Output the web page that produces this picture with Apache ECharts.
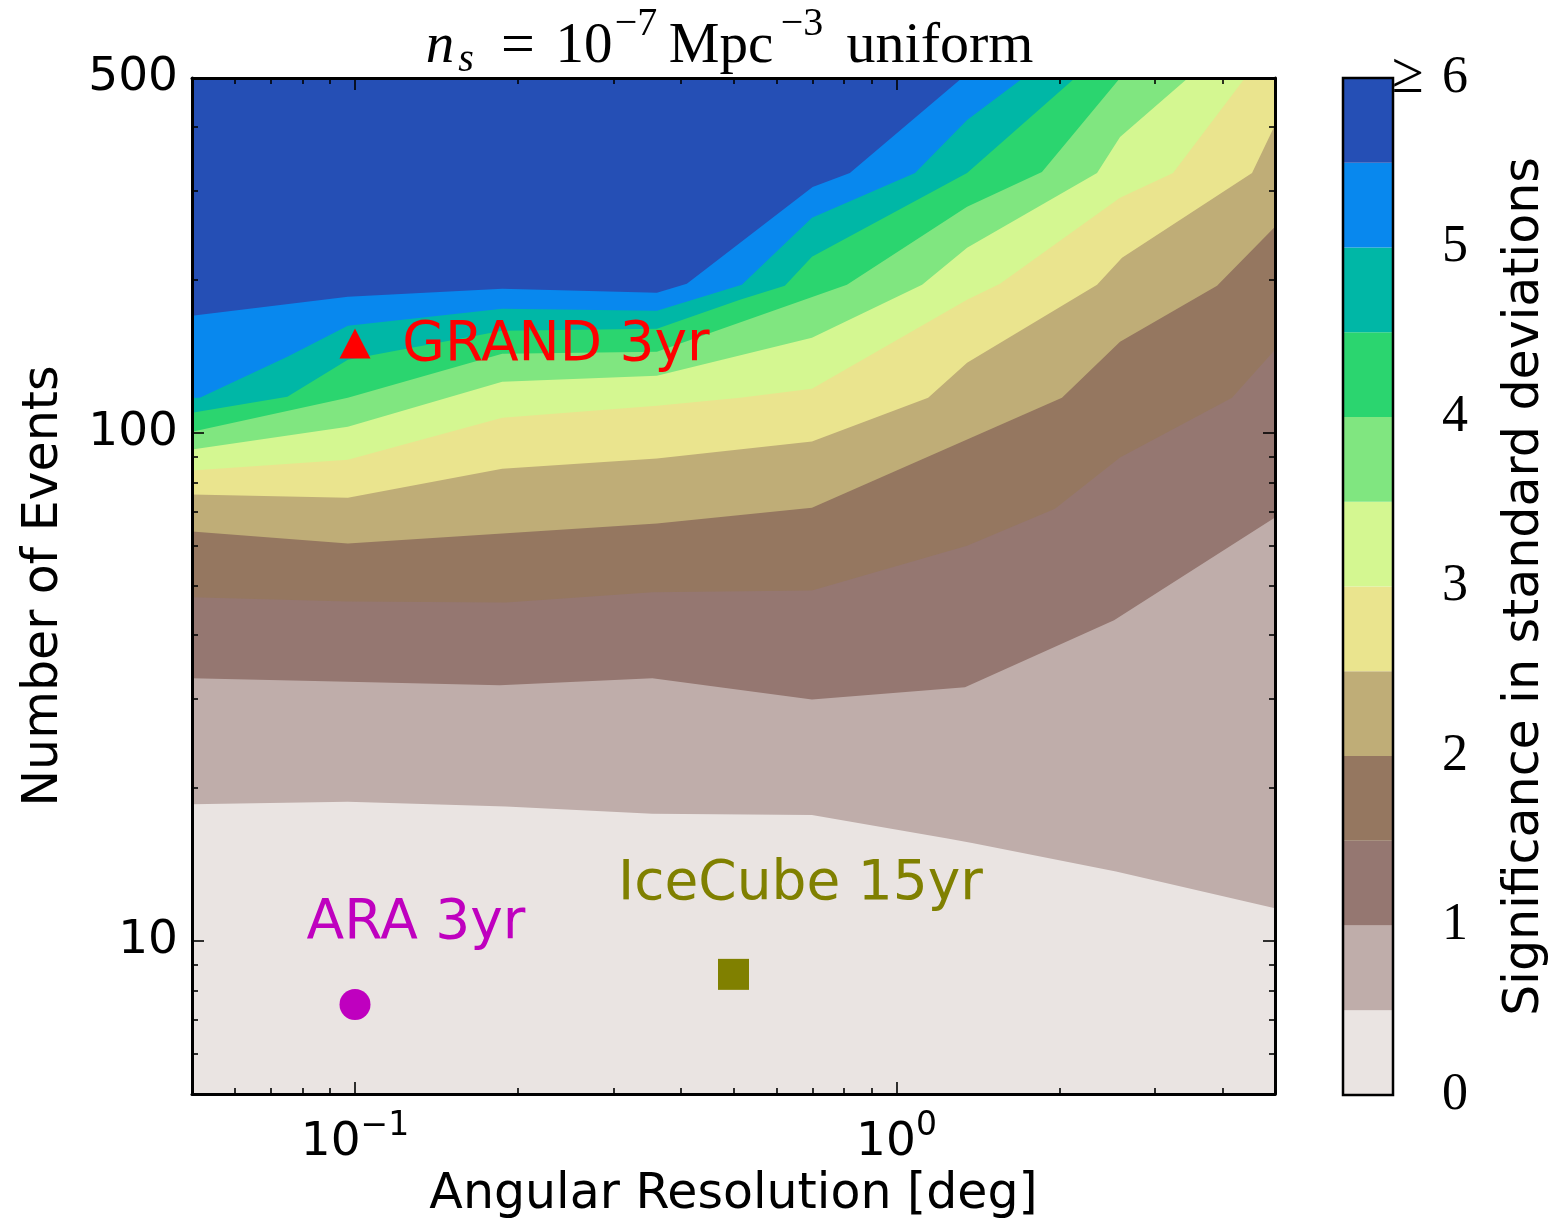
<!DOCTYPE html>
<html>
<head>
<meta charset="utf-8">
<script src="https://cdn.jsdelivr.net/npm/echarts/dist/echarts.min.js"></script>
<style>
html,body{margin:0;padding:0;background:#fff;}
#chart{width:1555px;height:1225px;}
</style>
</head>
<body>
<div id="chart"></div>
<script>
// ---- data: contour boundaries [angular resolution (deg), number of events] ----
const sig05 = [[0.05,18.6],[0.097,18.8],[0.19,18.4],[0.354,17.8],[0.698,17.7],[1.25,15.9],[1.379,15.6],[2.543,13.7],[5,11.6]];
const sig10 = [[0.05,32.9],[0.097,32.4],[0.185,31.9],[0.354,32.9],[0.698,29.9],[1.338,31.6],[2.522,42.8],[5,68.2]];
const sig15 = [[0.05,47.5],[0.097,46.6],[0.19,46.4],[0.354,48.6],[0.698,49.0],[1.35,60.0],[1.962,71.0],[2.587,89.5],[4.165,117.4],[5,145.9]];
const sig20 = [[0.05,64.0],[0.097,60.6],[0.361,66.4],[0.698,71.3],[1.35,97.1],[2.021,117.4],[2.587,151.3],[3.908,195.0],[5,254.7]];
const sig25 = [[0.05,75.7],[0.097,74.6],[0.187,85.1],[0.361,89.1],[0.698,96.2],[1.144,117.4],[1.35,137.5],[2.346,195.8],[2.609,221.3],[4.535,325.2],[5,404.2]];
const sig30 = [[0.05,84.4],[0.097,88.6],[0.187,107.2],[0.361,113.2],[0.514,117.4],[0.698,122.3],[1.35,183.0],[1.553,196.7],[2.587,290.4],[3.241,325.2],[4.401,500]];
const sig35 = [[0.05,92.8],[0.097,102.9],[0.187,126.2],[0.361,129.7],[0.698,154.0],[1.115,195.8],[1.35,231.6],[2.346,325.2],[2.587,382.8],[3.454,500]];
const sig40 = [[0.05,100.6],[0.097,117.4],[0.187,143.3],[0.361,144.6],[0.81,195.8],[1.35,278.8],[1.856,326.7],[2.587,500]];
const sig45 = [[0.05,109.7],[0.075,117.9],[0.097,139.4],[0.187,159.0],[0.361,160.5],[0.514,183.0],[0.622,195.0],[0.698,222.3],[1.35,325.2],[2.136,500]];
const sig50 = [[0.05,117.4],[0.0517,117.4],[0.075,141.3],[0.097,162.7],[0.187,175.6],[0.361,174.1],[0.518,195.8],[0.698,265.3],[1.082,325.2],[1.35,413.4],[1.713,500]];
const sig55 = [[0.05,170.2],[0.097,185.5],[0.187,192.3],[0.361,188.9],[0.41,196.7],[0.7,305.2],[0.82,325.2],[1.321,500]];

const levels = [0,0.5,1,1.5,2,2.5,3,3.5,4,4.5,5,5.5,6];

// detector markers [angular resolution, events]
const grand = [0.1, 150];
const ara = [0.1, 7.5];
const icecube = [0.5, 8.6];

// ticks
const xMajor = [0.1, 1];
const xMinor = [0.06,0.07,0.08,0.09,0.2,0.3,0.4,0.5,0.6,0.7,0.8,0.9,2,3,4];
const yMajor = [10, 100];
const yMinor = [6,7,8,9,20,30,40,50,60,70,80,90,200,300,400];
const yLabels = [10, 100, 500];
const cbTicks = [0,1,2,3,4,5,6];

// ---- styles ----
const bandColors = ['#eae4e2','#bfadaa','#957771','#957760','#bfad77','#eae48e',
                    '#d4f791','#80e680','#2bd56f','#00b7a6','#0888ee','#254fb5'];
const boundaries = [sig05,sig10,sig15,sig20,sig25,sig30,sig35,sig40,sig45,sig50,sig55];
const SANS = 'DejaVu Sans';
const SERIF = 'Liberation Serif';

function logAxis(kind, pos, tickVals, tickLen, withLine, labelCfg) {
  const range = kind === 'x' ? {min:0.05, max:5} : {min:5, max:500};
  return Object.assign({
    type:'log', logBase:10, gridIndex:0, position:pos, z:10,
    axisLine:{show:withLine, onZero:false, lineStyle:{color:'#000', width:3}},
    axisTick:{show:true, inside:true, length:tickLen, customValues:tickVals,
              lineStyle:{color:'#000', width:1.6}},
    axisLabel: labelCfg || {show:false},
    splitLine:{show:false}, minorTick:{show:false}, minorSplitLine:{show:false}
  }, range);
}

const xLabelCfg = {
  show:true, customValues:xMajor, margin:16,
  formatter: v => {
    const e = Math.round(Math.log10(v));
    return '{b|10}{s|' + (e < 0 ? '\u2212' + (-e) : e) + '}';
  },
  rich:{
    b:{fontSize:47, fontFamily:SANS, color:'#000', lineHeight:56, verticalAlign:'bottom'},
    s:{fontSize:33, fontFamily:SANS, color:'#000', lineHeight:28, verticalAlign:'top'}
  }
};
const yLabelCfg = {
  show:true, customValues:yLabels, margin:14, fontSize:47, fontFamily:SANS, color:'#000',
  formatter: v => String(Math.round(v))
};

const xAxes = [
  Object.assign(logAxis('x','bottom',xMajor,12,true,xLabelCfg), {
    name:'Angular Resolution [deg]', nameLocation:'middle', nameGap:77,
    nameTextStyle:{fontSize:49, fontFamily:SANS, color:'#000'}
  }),
  logAxis('x','bottom',xMinor,6,false),
  logAxis('x','top',xMajor,12,true),
  logAxis('x','top',xMinor,6,false),
  {type:'category', gridIndex:1, data:['cb'], show:false}
];
const yAxes = [
  Object.assign(logAxis('y','left',yMajor,12,true,yLabelCfg), {
    name:'Number of Events', nameLocation:'middle', nameGap:123,
    nameTextStyle:{fontSize:49, fontFamily:SANS, color:'#000'}
  }),
  logAxis('y','left',yMinor,6,false),
  logAxis('y','right',yMajor,12,true),
  logAxis('y','right',yMinor,6,false),
  {type:'value', gridIndex:1, min:0, max:6, interval:1, position:'right',
   axisLine:{show:false}, axisTick:{show:false}, splitLine:{show:false},
   axisLabel:{show:true, customValues:cbTicks, margin:49, fontSize:52, fontFamily:SERIF, color:'#000',
              formatter: v => String(v)},
   name:'Significance in standard deviations', nameLocation:'middle', nameGap:108,
   nameTextStyle:{fontSize:49, fontFamily:SANS, color:'#000'}}
];

const series = [];
boundaries.forEach((pts, i) => {
  series.push({
    type:'line', xAxisIndex:0, yAxisIndex:0, data:pts, symbol:'none', silent:true,
    clip:true, z:3, lineStyle:{opacity:0, width:0},
    areaStyle:{color:bandColors[i+1], opacity:1, origin:'end'}
  });
});
// colorbar
for (let i = 0; i < levels.length - 1; i++) {
  series.push({
    type:'bar', xAxisIndex:4, yAxisIndex:4, stack:'cb', barWidth:'100%', silent:true,
    data:[levels[i+1]-levels[i]], itemStyle:{color:bandColors[i]}, z:3
  });
}
function marker(pt, symbol, size, color, text, offset) {
  return {
    type:'scatter', xAxisIndex:0, yAxisIndex:0, data:[pt], symbol:symbol, symbolSize:size,
    itemStyle:{color:color, opacity:1}, z:6, silent:true,
    label:{show:true, position:'inside', offset:offset, formatter:text, color:color, opacity:1,
           fontSize:55, fontFamily:SANS, align:'center', verticalAlign:'middle'}
  };
}
series.push(marker(grand,'triangle',[31,30],'#ff0000','GRAND 3yr',[201,2]));
series.push(marker(ara,'circle',31,'#bf00bf','ARA 3yr',[61,-81]));
series.push(marker(icecube,'rect',31,'#808000','IceCube 15yr',[67,-90]));

function ttext(t, x, y, size, italic) {
  return {type:'text', x:x, y:y, z:100,
    style:{text:t, font:(italic ? 'italic ' : '') + size + 'px "' + SERIF + '"', fill:'#000',
           align:'center', verticalAlign:'middle'}};
}
const graphics = [
  ttext('n', 440, 47, 57, true),
  ttext('s', 466, 60, 40, true),
  ttext('=', 518, 47, 60, false),
  ttext('10', 584, 47, 57, false),
  ttext('\u22127', 636, 24, 40, false),
  ttext('Mpc', 721, 47, 57, false),
  ttext('\u22123', 802, 24, 40, false),
  ttext('uniform', 940, 47, 58, false),
  {type:'text', x:1392, y:77, z:100,
   style:{text:'\u2265', font:'58px "' + SERIF + '"', fill:'#000', align:'left', verticalAlign:'middle'}}
];

const option = {
  animation:false,
  backgroundColor:'#ffffff',
  grid:[
    {left:192, top:78, width:1083, height:1017, show:true, backgroundColor:bandColors[0], borderWidth:0, z:2},
    {left:1343, top:78, width:50, height:1017, show:true, backgroundColor:'rgba(0,0,0,0)',
     borderColor:'#000', borderWidth:2.5, z:10}
  ],
  xAxis:xAxes,
  yAxis:yAxes,
  series:series,
  graphic:graphics
};
const chart = echarts.init(document.getElementById('chart'));
chart.setOption(option);
</script>
</body>
</html>
